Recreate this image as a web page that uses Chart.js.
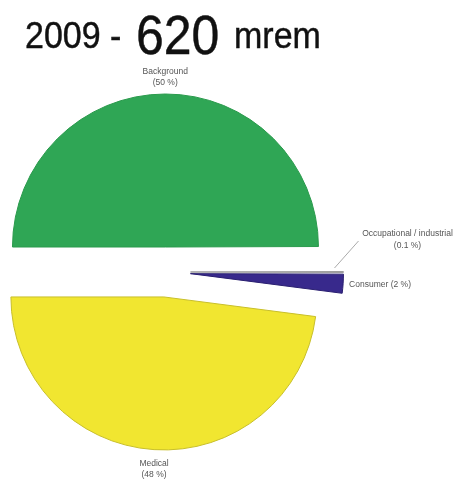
<!DOCTYPE html>
<html lang="en">
<head>
  <meta charset="UTF-8" />
  <title>2009 - 620 mrem</title>
  <style>
    body {
      margin: 0;
      width: 464px;
      height: 481px;
      background: #fff;
      position: relative;
      overflow: hidden;
      font-family: "Liberation Sans", Arial, sans-serif;
      color: #111;
    }
    .t {
      position: absolute;
      line-height: 1;
      white-space: pre;
      transform-origin: left bottom;
      transform: scaleY(1.1);
      -webkit-text-stroke: 0.4px #111;
    }
    #chart {
      position: absolute;
      left: 0;
      top: 0;
    }
  </style>
</head>
<body>
  <canvas id="chart" width="464" height="481"></canvas>
  <span class="t" style="left:25px; top:19px; font-size:34px;">2009 -</span>
  <span class="t" style="left:136px; top:13px; font-size:50px;">620</span>
  <span class="t" style="left:234px; top:19px; font-size:34px;">mrem</span>

  <script src="https://cdn.jsdelivr.net/npm/chart.js"></script>
  <script>
    const categories = ['Background', 'Occupational / industrial', 'Consumer', 'Medical'];
    const percents = [50, 0.1, 2, 48];

    const fillColors = ['#2fa655', '#ffffff', '#38298c', '#f1e630'];
    const edgeColors = ['#2a9a4c', '#9a9a9a', '#2a1f70', '#c8bf2a'];

    // where each slice label goes, relative to the outer edge of its slice
    const labelPlace = ['top', 'leader', 'right', 'bottom'];

    function labelText(i) {
      const pct = '(' + percents[i] + ' %)';
      if (labelPlace[i] === 'right') return [categories[i] + ' ' + pct];
      return [categories[i], pct];
    }

    // pull every slice out from the centre along its middle angle
    const explode = {
      id: 'explode',
      beforeDatasetsDraw(chart, args, opts) {
        chart.getDatasetMeta(0).data.forEach(arc => {
          if (arc._exploded) return;
          const draw = arc.draw;
          arc.draw = function (ctx) {
            const mid = (this.startAngle + this.endAngle) / 2;
            ctx.save();
            ctx.translate(Math.cos(mid) * opts.distance, Math.sin(mid) * opts.distance);
            draw.call(this, ctx);
            ctx.restore();
          };
          arc._exploded = true;
        });
      }
    };

    const sliceLabels = {
      id: 'sliceLabels',
      afterDatasetsDraw(chart) {
        const ctx = chart.ctx;
        const meta = chart.getDatasetMeta(0);
        const dist = chart.options.plugins.explode.distance;
        ctx.save();
        ctx.font = '8.5px "Liberation Sans", Arial, sans-serif';
        ctx.fillStyle = '#555';
        meta.data.forEach((arc, i) => {
          const p = arc.getProps(['x', 'y', 'startAngle', 'endAngle', 'outerRadius'], true);
          const r = p.outerRadius + dist;
          const mid = (p.startAngle + p.endAngle) / 2;
          const ex = p.x + Math.cos(mid) * r;
          const ey = p.y + Math.sin(mid) * r;
          const lines = labelText(i);
          if (labelPlace[i] === 'top') {
            ctx.textAlign = 'center';
            ctx.textBaseline = 'middle';
            ctx.fillText(lines[0], ex, ey - 22);
            ctx.fillText(lines[1], ex, ey - 11);
          } else if (labelPlace[i] === 'bottom') {
            ctx.textAlign = 'center';
            ctx.textBaseline = 'middle';
            ctx.fillText(lines[0], ex, ey + 14);
            ctx.fillText(lines[1], ex, ey + 25);
          } else if (labelPlace[i] === 'right') {
            ctx.textAlign = 'left';
            ctx.textBaseline = 'middle';
            ctx.fillText(lines[0], ex + 6, ey + 1);
          } else {
            ctx.strokeStyle = '#aaa';
            ctx.lineWidth = 1;
            ctx.beginPath();
            ctx.moveTo(ex - 9, ey - 4);
            ctx.lineTo(ex + 15, ey - 31);
            ctx.stroke();
            ctx.textAlign = 'center';
            ctx.textBaseline = 'middle';
            ctx.fillText(lines[0], ex + 64, ey - 38);
            ctx.fillText(lines[1], ex + 64, ey - 26);
          }
        });
        ctx.restore();
      }
    };

    new Chart(document.getElementById('chart'), {
      type: 'pie',
      data: {
        labels: categories,
        datasets: [{
          data: percents,
          backgroundColor: fillColors,
          borderColor: edgeColors,
          borderWidth: 1,
          clip: false
        }]
      },
      options: {
        responsive: false,
        animation: false,
        rotation: -90,
        radius: 153,
        layout: { padding: { left: 0, right: 133, top: 63, bottom: 0 } },
        plugins: {
          legend: { display: false },
          tooltip: { enabled: false },
          title: { display: false },
          explode: { distance: 25 }
        }
      },
      plugins: [explode, sliceLabels]
    });
  </script>
</body>
</html>
